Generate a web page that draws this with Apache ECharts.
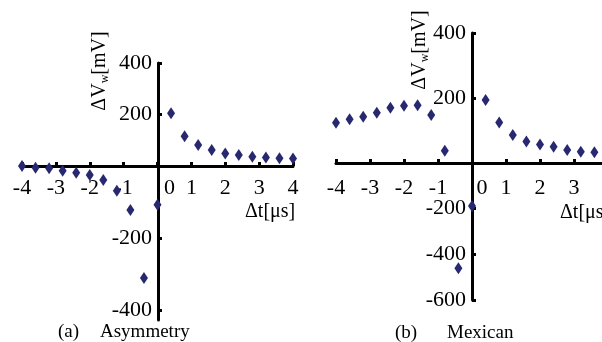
<!DOCTYPE html>
<html>
<head>
<meta charset="utf-8">
<script src="https://cdn.jsdelivr.net/npm/echarts@6/dist/echarts.min.js"></script>
<style>
  html, body { margin: 0; background: #fff; }
  #chart { width: 602px; height: 342px; }
</style>
</head>
<body>
<div id="chart"></div>
<script>
// spike timing difference (us)
const dt = [-4, -3.6, -3.2, -2.8, -2.4, -2, -1.6, -1.2, -0.8, -0.4, 0,
            0.4, 0.8, 1.2, 1.6, 2, 2.4, 2.8, 3.2, 3.6, 4];
// (a) asymmetry weight change (mV)
const asymmetry = [0, -5, -6, -13, -19, -25, -39, -69, -122, -311, -108,
                   205, 116, 82, 62, 49, 43, 36, 33, 30, 29];
// (b) mexican hat weight change (mV), last point is outside the picture
const mexicanDt = dt.slice(0, 20);
const mexican = [124, 135, 142, 155, 170, 176, 178, 148, 38, -461, -188,
                 194, 125, 86, 66, 57, 50, 40, 35, 33];

const asymNegTicks = [-200, -400];

const FONT = "Liberation Serif";
const DOT = "#27286f";

// points above / below zero go into separate grids (the two halves use different scales)
const pairs = (ts, vs, neg) =>
  ts.map((t, i) => [t, vs[i]]).filter((p) => (neg ? p[1] < 0 : p[1] >= 0));

const grids = [
  { left: 22, top: 63, width: 271, height: 103 },   // (a) positive half
  { left: 22, top: 166, width: 271, height: 154 },  // (a) negative half
  { left: 336, top: 33, width: 272, height: 130 },  // (b) positive half
  { left: 336, top: 163, width: 272, height: 137 }, // (b) negative half
].map((g) => ({ ...g, containLabel: false, outerBoundsMode: "none" }));

const xAxes = grids.map((g, i) => {
  const main = i % 2 === 0;
  return {
    type: "value",
    gridIndex: i,
    min: -4,
    max: 4,
    interval: 1,
    position: "bottom",
    axisLine: { show: main, onZero: false, lineStyle: { color: "#000", width: 3 } },
    axisTick: { show: main, inside: true, length: 4, lineStyle: { color: "#000", width: 3 } },
    axisLabel: {
      show: main,
      color: "#000",
      fontFamily: FONT,
      fontSize: 22,
      margin: i === 0 ? 11 : 14,
      formatter: (v) => (v === 0 ? "{z|0}" : String(v)),
      rich: { z: { fontFamily: FONT, fontSize: 22, padding: [0, 0, 0, i === 0 ? 24 : 20] } },
    },
    splitLine: { show: false },
  };
});

// y axis sits at dt = 0, i.e. 4 units (136 px) in from the grid's left edge
const yBase = {
  type: "value",
  position: "left",
  offset: -136,
  axisLine: { onZero: false, lineStyle: { color: "#000", width: 3 } },
  axisTick: { inside: true, length: 4, lineStyle: { color: "#000", width: 3 } },
  axisLabel: { color: "#000", fontFamily: FONT, fontSize: 22, margin: 6 },
  splitLine: { show: false },
};

const yAxes = [
  { ...yBase, gridIndex: 0, min: 0, max: 400, interval: 200,
    axisLabel: { ...yBase.axisLabel, showMinLabel: false } },
  { ...yBase, gridIndex: 1, min: -428, max: 0,
    axisLabel: { ...yBase.axisLabel, customValues: asymNegTicks },
    axisTick: { ...yBase.axisTick, customValues: asymNegTicks } },
  { ...yBase, gridIndex: 2, min: 0, max: 400, interval: 200,
    axisLabel: { ...yBase.axisLabel, showMinLabel: false } },
  { ...yBase, gridIndex: 3, min: -600, max: 0, interval: 200,
    axisLabel: { ...yBase.axisLabel, showMaxLabel: false } },
];

const scatter = (idx, data) => ({
  type: "scatter",
  xAxisIndex: idx,
  yAxisIndex: idx,
  data,
  symbol: "diamond",
  symbolSize: [8, 12],
  clip: false,
  itemStyle: { color: DOT, opacity: 1 },
});

const series = [
  scatter(0, pairs(dt, asymmetry, false)),
  scatter(1, pairs(dt, asymmetry, true)),
  scatter(2, pairs(mexicanDt, mexican, false)),
  scatter(3, pairs(mexicanDt, mexican, true)),
];

const nameRich = {
  a: { fontFamily: FONT, fontSize: 20, fill: "#000" },
  s: { fontFamily: FONT, fontSize: 12, fill: "#000", verticalAlign: "bottom", padding: [10, 0, 0, 0] },
};
const text = (x, y, t, opts = {}) => ({
  type: "text",
  x, y,
  rotation: opts.rotation || 0,
  style: {
    text: t,
    fontFamily: FONT,
    fontSize: opts.size || 20,
    fill: "#000",
    align: opts.align || "left",
    verticalAlign: "middle",
    rich: nameRich,
  },
});

const option = {
  animation: false,
  backgroundColor: "#fff",
  grid: grids,
  xAxis: xAxes,
  yAxis: yAxes,
  series,
  graphic: [
    text(100, 71, "{a|ΔV}{s|w}{a|[mV]}", { rotation: Math.PI / 2, align: "center" }),
    text(420, 50, "{a|ΔV}{s|w}{a|[mV]}", { rotation: Math.PI / 2, align: "center" }),
    text(245, 212, "Δt[μs]"),
    text(560, 213, "Δt[μs]"),
    text(58, 332, "(a)", { size: 19 }),
    text(100, 332, "Asymmetry", { size: 19 }),
    text(395, 333, "(b)", { size: 19 }),
    text(447, 333, "Mexican", { size: 19 }),
  ],
};

const chart = echarts.init(document.getElementById("chart"));
chart.setOption(option);
</script>
</body>
</html>
